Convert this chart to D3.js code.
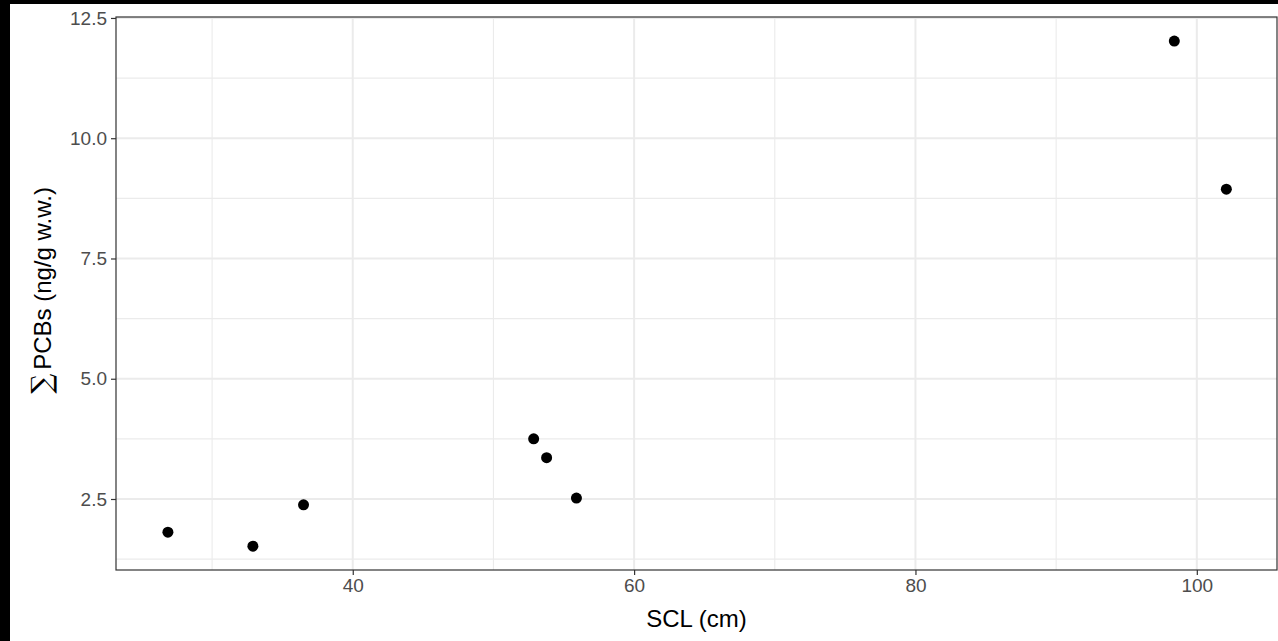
<!DOCTYPE html>
<html><head><meta charset="utf-8">
<script src="https://cdn.jsdelivr.net/npm/d3@7"></script>
<style>body{margin:0;background:#000;}svg{display:block;}</style>
</head><body>
<svg id="c" width="1278" height="641"></svg>
<script>
const sclValues = [26.86, 32.9, 36.5, 52.86, 53.78, 55.9, 98.4, 102.1];
const pcbValues = [1.81, 1.52, 2.38, 3.75, 3.36, 2.52, 12.02, 8.94];
const xTicks = [40, 60, 80, 100];
const xMinor = [30, 50, 70, 90];
const yTicks = [2.5, 5.0, 7.5, 10.0, 12.5];
const yMinor = [1.25, 3.75, 6.25, 8.75, 11.25];
const xTitle = "SCL (cm)";
const yTitle = "PCBs (ng/g w.w.)";

const svg = d3.select("#c");
svg.append("rect").attr("x",0).attr("y",0).attr("width",1278).attr("height",641).attr("fill","#000");
svg.append("rect").attr("x",10).attr("y",4).attr("width",1268).attr("height",637).attr("fill","#fff");

const L=116, T=17, R=1277, B=570;
const x = d3.scaleLinear().domain([23.17, 105.7]).range([L, R]);
const y = d3.scaleLinear().domain([1.024, 12.52]).range([B, T]);

const g = svg.append("g");
g.selectAll(".xm").data(xMinor).join("line").attr("x1",d=>x(d)).attr("x2",d=>x(d)).attr("y1",T).attr("y2",B).attr("stroke","#ebebeb").attr("stroke-width",1.1);
g.selectAll(".ym").data(yMinor).join("line").attr("y1",d=>y(d)).attr("y2",d=>y(d)).attr("x1",L).attr("x2",R).attr("stroke","#ebebeb").attr("stroke-width",1.1);
g.selectAll(".xM").data(xTicks).join("line").attr("x1",d=>x(d)).attr("x2",d=>x(d)).attr("y1",T).attr("y2",B).attr("stroke","#ebebeb").attr("stroke-width",2);
g.selectAll(".yM").data(yTicks).join("line").attr("y1",d=>y(d)).attr("y2",d=>y(d)).attr("x1",L).attr("x2",R).attr("stroke","#ebebeb").attr("stroke-width",2);

g.selectAll("circle").data(sclValues).join("circle")
  .attr("cx",d=>x(d)).attr("cy",(d,i)=>y(pcbValues[i])).attr("r",5.5).attr("fill","#000");

svg.append("rect").attr("x",L).attr("y",T).attr("width",R-L).attr("height",B-T).attr("fill","none").attr("stroke","#333").attr("stroke-width",1.2);

const xa = svg.append("g").attr("transform",`translate(0,${B})`)
  .call(d3.axisBottom(x).tickValues(xTicks).tickFormat(d3.format("d")).tickSize(5).tickPadding(4));
const ya = svg.append("g").attr("transform",`translate(${L},0)`)
  .call(d3.axisLeft(y).tickValues(yTicks).tickFormat(d3.format(".1f")).tickSize(5).tickPadding(4));
[xa,ya].forEach(a=>{
  a.attr("font-size",null).attr("font-family",null);
  a.select(".domain").remove();
  a.selectAll(".tick line").attr("stroke","#333").attr("stroke-width",1.2);
  a.selectAll(".tick text").attr("fill","#4d4d4d").attr("font-family","'Liberation Sans', Arial, sans-serif").attr("font-size","19px");
});

svg.append("text").attr("x",(L+R)/2).attr("y",627).attr("text-anchor","middle")
  .attr("font-family","'Liberation Sans', Arial, sans-serif").attr("font-size","24px").attr("fill","#000").text(xTitle);

const yt = svg.append("text").attr("transform",`translate(51,${(T+B)/2-3}) rotate(-90)`).attr("text-anchor","middle")
  .attr("font-family","'Liberation Sans', Arial, sans-serif").attr("font-size","24px").attr("fill","#000");
yt.append("tspan").attr("font-family","'DejaVu Serif', serif").attr("font-size","28px").text("∑");
yt.append("tspan").attr("dx",4).text(yTitle);
</script>
</body></html>
